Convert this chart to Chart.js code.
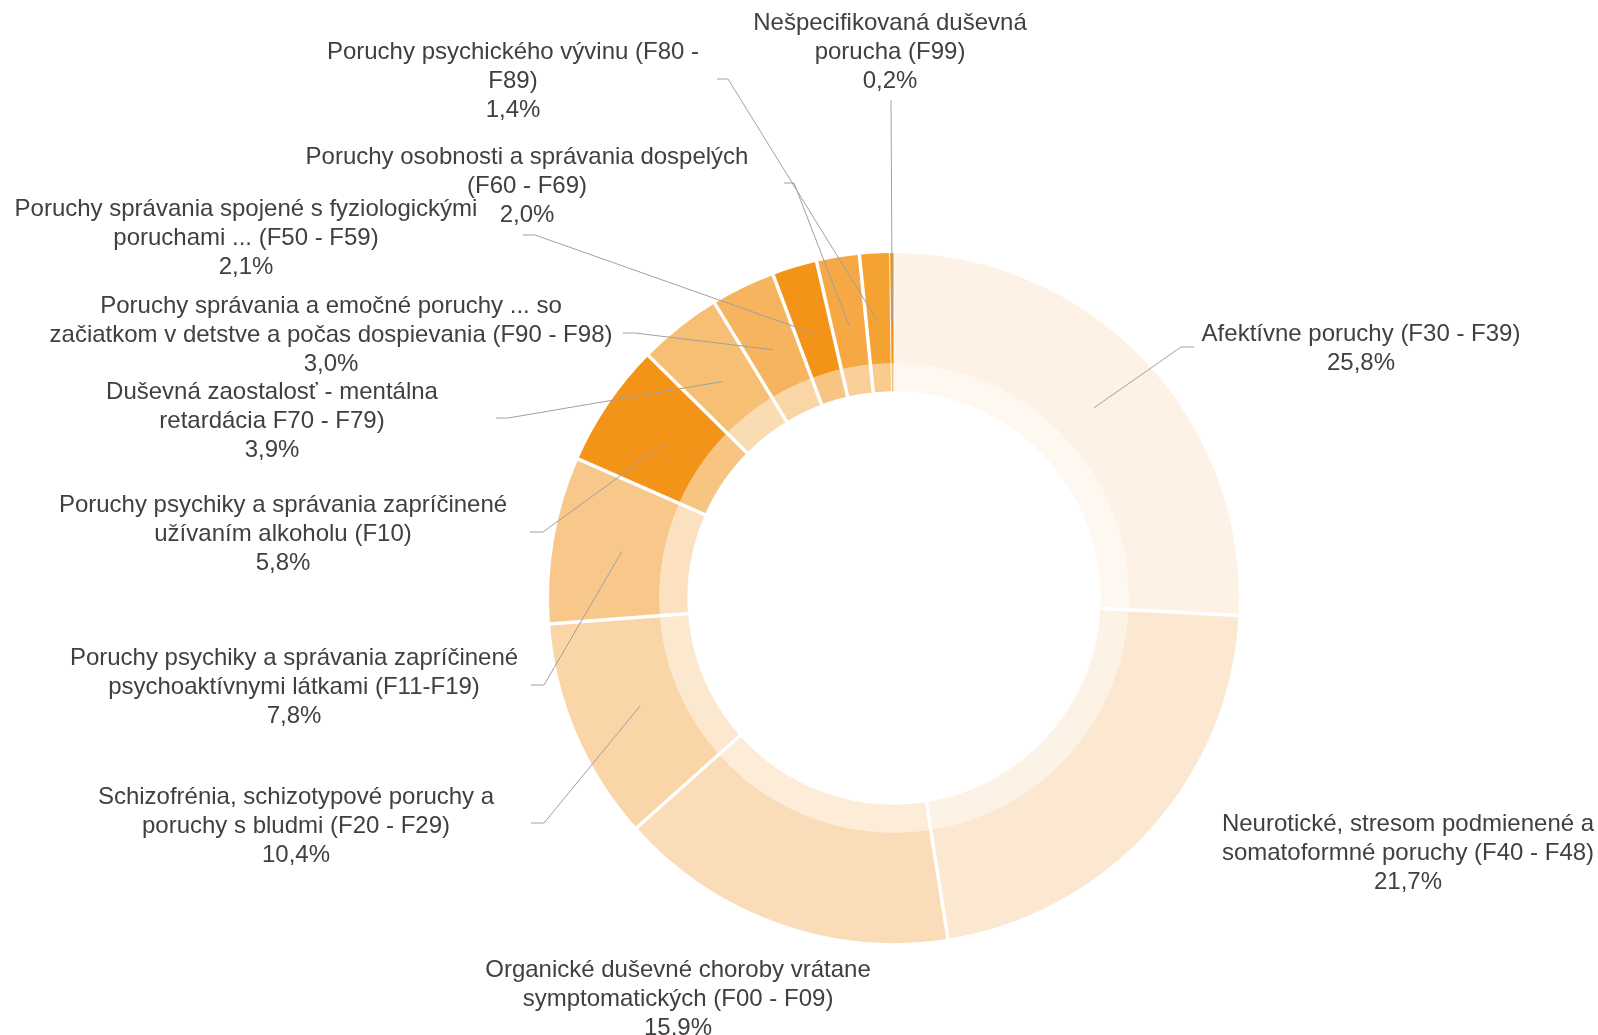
<!DOCTYPE html>
<html>
<head>
<meta charset="utf-8">
<script src="https://cdn.jsdelivr.net/npm/chart.js@4/dist/chart.umd.min.js"></script>
<style>
  html, body { margin: 0; padding: 0; background: #fff; }
</style>
</head>
<body>
<canvas id="chart" width="1598" height="1035"></canvas>
<script>
// categories (label lines) and shares in %
const categories = [
  ['Afektívne poruchy (F30 - F39)'],
  ['Neurotické, stresom podmienené a', 'somatoformné poruchy (F40 - F48)'],
  ['Organické duševné choroby vrátane', 'symptomatických (F00 - F09)'],
  ['Schizofrénia, schizotypové poruchy a', 'poruchy s bludmi (F20 - F29)'],
  ['Poruchy psychiky a správania zapríčinené', 'psychoaktívnymi látkami (F11-F19)'],
  ['Poruchy psychiky a správania zapríčinené', 'užívaním alkoholu (F10)'],
  ['Duševná zaostalosť - mentálna', 'retardácia F70 - F79)'],
  ['Poruchy správania a emočné poruchy ... so', 'začiatkom v detstve a počas dospievania (F90 - F98)'],
  ['Poruchy správania spojené s fyziologickými', 'poruchami ... (F50 - F59)'],
  ['Poruchy osobnosti a správania dospelých', '(F60 - F69)'],
  ['Poruchy psychického vývinu (F80 -', 'F89)'],
  ['Nešpecifikovaná duševná', 'porucha (F99)']
];
const shares = [25.8, 21.7, 15.9, 10.4, 7.8, 5.8, 3.9, 3.0, 2.1, 2.0, 1.4, 0.2];

const colors = [
  '#FDF2E5', '#FCE8D1', '#FADDB8', '#F9D5A7', '#F8C88B', '#F39419',
  '#F6BF74', '#F5B45D', '#F39419', '#F5A843', '#F4A232', '#F39419'
];

// label placement: [centre x, first line y]
const labelPos = [
  [1361, 334.5], [1408, 824.5], [678, 970.5], [296, 797.5], [294, 658.5], [283, 505.5],
  [272, 392.5], [331, 306.5], [246, 209.5], [527, 157.5], [513, 52.5], [890, 23.5]
];
// leader lines: [start x, start y, knee x, knee y]; end is in the slice
const leaders = [
  [1194, 347, 1181, 347], null, null,
  [531, 823, 544, 823], [531, 685, 544, 685], [530, 532, 543, 532],
  [496, 418, 508, 418], [623, 333, 635, 333], [523, 235, 535, 235],
  [784, 183, 794, 183], [717, 79, 728, 79], [891, 100, 891, 100]
];

function lighten(hex, t) {
  const n = parseInt(hex.slice(1), 16);
  const ch = [(n >> 16) & 255, (n >> 8) & 255, n & 255].map(c => Math.round(c + (255 - c) * t));
  return 'rgb(' + ch.join(',') + ')';
}
const innerColors = colors.map(c => lighten(c, 0.45));

const fmt = v => v.toFixed(1).replace('.', ',') + '%';

const ringLabels = {
  id: 'ringLabels',
  afterDatasetsDraw(chart) {
    const ctx = chart.ctx;
    const outer = chart.getDatasetMeta(0).data;
    const inner = chart.getDatasetMeta(1).data;
    ctx.save();

    // white separators across both rings
    ctx.strokeStyle = '#ffffff';
    outer.forEach((arc, i) => {
      const prev = outer[(i + outer.length - 1) % outer.length];
      const span = Math.min(arc.endAngle - arc.startAngle, prev.endAngle - prev.startAngle) * arc.outerRadius;
      ctx.lineWidth = Math.min(3.5, span * 0.2);
      const a = arc.startAngle;
      const r0 = inner[i].innerRadius - 1, r1 = arc.outerRadius + 1;
      ctx.beginPath();
      ctx.moveTo(arc.x + Math.cos(a) * r0, arc.y + Math.sin(a) * r0);
      ctx.lineTo(arc.x + Math.cos(a) * r1, arc.y + Math.sin(a) * r1);
      ctx.stroke();
    });

    // leader lines
    ctx.strokeStyle = '#A0A0A0';
    ctx.lineWidth = 1;
    leaders.forEach((l, i) => {
      if (!l) return;
      const arc = outer[i];
      const mid = (arc.startAngle + arc.endAngle) / 2;
      const r = arc.outerRadius * 0.8;
      ctx.beginPath();
      ctx.moveTo(l[0], l[1]);
      ctx.lineTo(l[2], l[3]);
      ctx.lineTo(arc.x + Math.cos(mid) * r, arc.y + Math.sin(mid) * r);
      ctx.stroke();
    });

    // labels
    ctx.fillStyle = '#404040';
    ctx.font = '24px "Liberation Sans", Arial, sans-serif';
    ctx.textAlign = 'center';
    ctx.textBaseline = 'middle';
    categories.forEach((lines, i) => {
      const [x, y] = labelPos[i];
      lines.concat([fmt(shares[i])]).forEach((t, k) => ctx.fillText(t, x, y + k * 28.8));
    });
    ctx.restore();
  }
};

new Chart(document.getElementById('chart'), {
  type: 'doughnut',
  data: {
    labels: categories,
    datasets: [
      { data: shares, backgroundColor: colors, borderWidth: 0, weight: 110 },
      { data: shares, backgroundColor: innerColors, borderWidth: 0, weight: 28 }
    ]
  },
  options: {
    responsive: false,
    animation: false,
    events: [],
    cutout: '59.9%',
    layout: { padding: { left: 549, right: 359, top: 253, bottom: 92 } },
    plugins: { legend: { display: false }, tooltip: { enabled: false } }
  },
  plugins: [ringLabels]
});
</script>
</body>
</html>
